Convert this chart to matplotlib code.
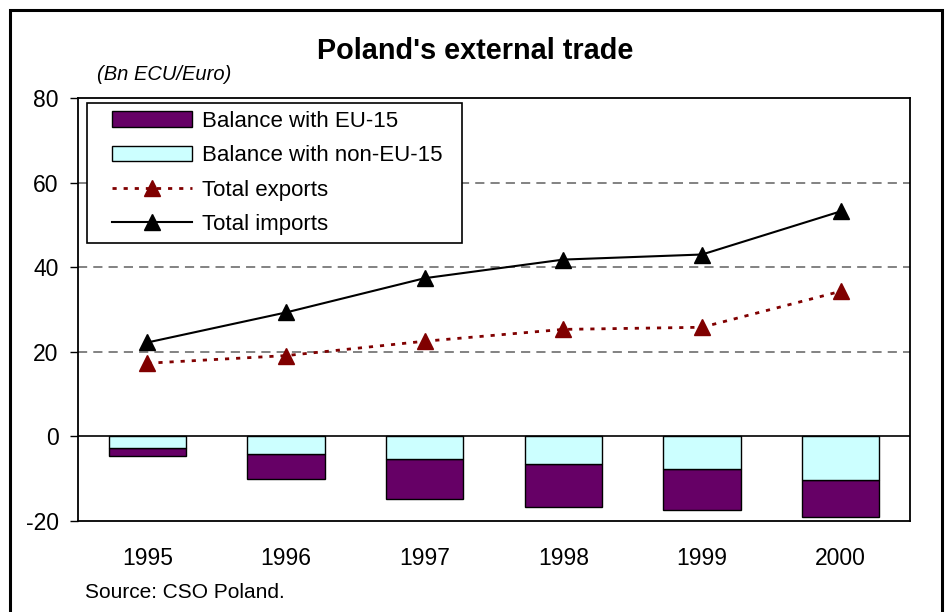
import matplotlib
matplotlib.use("Agg")
import matplotlib.pyplot as plt
from matplotlib.patches import Rectangle
from matplotlib.legend_handler import HandlerPatch, HandlerLine2D
import numpy as np

plt.rcParams['font.family'] = ['Liberation Sans', 'DejaVu Sans']

years = ['1995', '1996', '1997', '1998', '1999', '2000']
bal_non_eu = [-2.8, -4.2, -5.4, -6.5, -7.6, -10.2]
bal_eu = [-1.9, -5.8, -9.5, -10.3, -9.9, -8.9]
exports = [17.3, 19.1, 22.5, 25.3, 25.8, 34.3]
imports = [22.2, 29.3, 37.4, 41.8, 43.0, 53.2]
yticks = [-20, 0, 20, 40, 60, 80]

fig = plt.figure(figsize=(9.47, 6.12), dpi=100)
ax = fig.add_axes([78/947, 1-521/612, (910-78)/947, (521-98)/612])

x = np.arange(len(years))
w = 0.56
b_eu = ax.bar(x, bal_eu, w, bottom=bal_non_eu, color='#660066', edgecolor='black',
              linewidth=1.0, label='Balance with EU-15', zorder=3)
b_neu = ax.bar(x, bal_non_eu, w, color='#CCFFFF', edgecolor='black',
               linewidth=1.0, label='Balance with non-EU-15', zorder=3)
l_ex, = ax.plot(x, exports, linestyle=(0, (1.5, 2.5)), color='#800000', linewidth=2,
                marker='^', markersize=12, markerfacecolor='#800000',
                markeredgecolor='#800000', label='Total exports', zorder=4)
l_im, = ax.plot(x, imports, linestyle='-', color='black', linewidth=1.5,
                marker='^', markersize=12, markerfacecolor='black',
                markeredgecolor='black', label='Total imports', zorder=4)

ax.set_xlim(-0.5, len(years) - 0.5)
ax.set_ylim(-20, 80)
ax.set_yticks(yticks)
ax.set_yticklabels([str(t) for t in yticks], fontsize=16.5)
ax.set_xticks(x)
ax.set_xticklabels(years, fontsize=16.5)
ax.tick_params(axis='x', length=0, pad=19)
ax.tick_params(axis='y', direction='out', length=6, width=1, pad=8)

for g in [20, 40, 60]:
    ax.axhline(g, color='#606060', linestyle=(0, (6, 4)), linewidth=1.1, zorder=1)
ax.axhline(0, color='black', linewidth=1.2, zorder=2)

for s in ax.spines.values():
    s.set_linewidth(1.3)
    s.set_color('black')

xp = 0.75
h_eu = b_eu.patches[0]
h_neu = b_neu.patches[0]
hmap = {h_eu: HandlerPatch(xpad=xp), h_neu: HandlerPatch(xpad=xp),
        l_ex: HandlerLine2D(xpad=xp), l_im: HandlerLine2D(xpad=xp)}
leg = ax.legend([h_eu, h_neu, l_ex, l_im],
                ['Balance with EU-15', 'Balance with non-EU-15  ', 'Total exports', 'Total imports'],
                handler_map=hmap,
                loc='upper left', bbox_to_anchor=(0.011, 0.988),
                fontsize=16, frameon=True, fancybox=False, edgecolor='black',
                framealpha=1, handlelength=3.6 + xp, handletextpad=0.45,
                labelspacing=0.6, borderpad=0.35, borderaxespad=0)
leg.get_frame().set_linewidth(1.2)

fig.text(475/947, 1-51/612, "Poland's external trade", fontsize=20.8,
         fontweight='bold', ha='center', va='center')
fig.text(97/947, 1-75/612, "(Bn ECU/Euro)", fontsize=14.5, style='italic',
         ha='left', va='center')
fig.text(85/947, 1-592/612, "Source: CSO Poland.", fontsize=15,
         ha='left', va='center')

fig.patches.append(Rectangle((10/947, -0.05), (942-10)/947, 1 - 10/612 + 0.05,
                             transform=fig.transFigure, fill=False,
                             edgecolor='black', linewidth=2.2))

fig.savefig('out.png', dpi=100)
